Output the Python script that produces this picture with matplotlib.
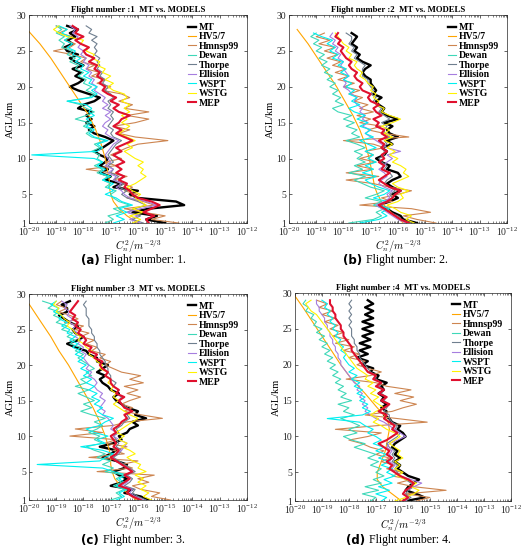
import numpy as np
import matplotlib
matplotlib.use('Agg')
import matplotlib.pyplot as plt
from matplotlib.ticker import LogLocator, NullFormatter

plt.rcParams['font.family'] = ['Liberation Serif', 'DejaVu Serif']
plt.rcParams['mathtext.fontset'] = 'cm'

names = ['MT', 'HV5/7', 'Hmnsp99', 'Dewan', 'Thorpe', 'Ellision', 'WSPT', 'WSTG', 'MEP']
colors = ['#000000', '#FFA500', '#CD8550', '#3ED8B8', '#6F7F8F', '#A67EDF', '#00F0F0', '#FFF200', '#E0102E']
widths = [1.7, 0.8, 0.8, 0.8, 0.8, 0.8, 0.8, 0.8, 1.5]

# log10(Cn2) profiles, sampled every 0.5 km starting at 1 km
# ---------------- flight 1 ----------------
mt_1 = [-15.0, -15.7, -15.3, -16.2, -15.6, -14.3, -14.6, -16.0, -16.3, -16.0,
        -16.9, -16.6, -17.2, -17.0, -17.4, -17.1, -17.4, -17.2, -17.1, -17.4,
        -17.6, -17.3, -17.1, -16.9, -17.2, -17.6, -17.8, -17.6, -17.9, -17.7,
        -17.9, -17.7, -18.2, -18.0, -17.6, -17.4, -17.8, -18.2, -18.5, -18.2,
        -18.0, -18.3, -18.1, -18.4, -18.0, -18.3, -18.5, -18.2, -18.6, -18.7,
        -18.4, -18.6, -18.3, -18.5, -18.2, -18.6]
hv_alt_1 = [1, 2, 3, 4, 5, 6, 7, 8, 10, 12, 14, 16, 18, 20, 22, 24, 26, 27.7]
hv_1 = [-16.0, -16.4, -16.7, -16.9, -17.0, -17.05, -17.05, -17.1, -17.2, -17.35,
        -17.55, -17.8, -18.15, -18.5, -18.85, -19.2, -19.6, -20.0]
hm_1 = [-14.5, -15.5, -15.0, -15.8, -16.5, -15.4, -15.8, -16.4, -16.0, -16.5,
        -16.2, -16.6, -16.9, -16.4, -17.0, -17.9, -16.8, -17.2, -16.6, -17.0,
        -16.7, -16.4, -16.0, -14.9, -16.1, -16.7, -16.3, -16.9, -16.1, -15.6,
        -16.4, -15.6, -16.5, -16.2, -16.7, -16.3, -16.6, -17.3, -17.0, -17.5,
        -17.2, -17.7, -17.4, -17.9, -17.6, -18.1, -17.9, -18.4, -19.1, -18.5,
        -18.3, -18.7, -18.4, -18.9, -18.6, -19.0]
dewan_1 = [-17.2, -16.9, -17.1, -16.6, -16.9, -16.3, -16.7, -16.9, -17.0, -16.8,
           -17.2, -17.0, -17.3, -17.1, -17.5, -17.3, -17.6, -17.3, -17.5, -17.4,
           -17.7, -17.4, -17.6, -17.2, -17.7, -17.9, -17.7, -18.0, -17.8, -18.3,
           -17.9, -17.6, -17.9, -18.1, -18.6, -17.8, -17.6, -17.9, -17.7, -18.0,
           -17.9, -18.2, -18.0, -18.3, -18.2, -18.5, -18.3, -18.6, -18.4, -18.8,
           -18.7, -18.9, -18.7, -19.0, -18.8, -19.0]
thorpe_1 = [-15.8, -16.2, -15.9, -16.4, -16.1, -15.7, -16.0, -16.4, -16.6, -16.4,
            -16.7, -16.5, -16.9, -16.7, -17.0, -16.9, -17.1, -16.9, -17.0, -17.1,
            -17.0, -16.9, -16.8, -16.6, -16.9, -17.0, -16.9, -17.1, -17.0, -16.9,
            -17.0, -16.9, -17.1, -17.0, -17.1, -16.9, -17.0, -17.2, -17.1, -17.3,
            -17.2, -17.4, -17.3, -17.5, -17.4, -17.5, -17.4, -17.6, -17.5, -17.6,
            -17.5, -17.7, -17.5, -17.8, -17.7, -17.9]
ellis_1 = [-15.9, -16.3, -16.0, -16.4, -15.9, -15.3, -15.7, -16.3, -16.5, -16.6,
           -16.8, -16.6, -16.9, -16.8, -17.1, -16.9, -17.2, -17.0, -17.1, -17.2,
           -17.1, -17.0, -16.9, -16.7, -17.0, -17.2, -17.1, -17.3, -17.2, -17.0,
           -17.2, -17.0, -17.3, -17.1, -17.3, -17.2, -17.4, -17.6, -17.5, -17.7,
           -17.6, -17.8, -17.7, -17.9, -17.8, -18.0, -17.9, -18.1, -18.0, -18.2,
           -18.1, -18.3, -18.2, -18.4, -18.3, -18.5]
wspt_1 = [-16.9, -16.5, -16.8, -16.4, -16.7, -16.2, -16.6, -16.8, -17.2, -16.9,
          -17.1, -16.9, -17.3, -17.0, -17.4, -17.2, -17.5, -17.3, -17.6, -19.9,
          -17.5, -17.3, -17.5, -17.1, -17.6, -17.8, -17.6, -17.9, -17.7, -17.9,
          -17.6, -17.8, -17.7, -17.9, -18.6, -17.7, -17.5, -17.7, -17.5, -17.8,
          -17.7, -18.0, -17.8, -18.1, -18.0, -18.3, -18.1, -18.4, -18.3, -18.6,
          -18.4, -18.7, -18.5, -18.8, -18.6, -18.9]
wstg_1 = [-16.2, -15.9, -16.3, -15.8, -16.2, -15.7, -15.9, -16.1, -15.9, -16.2,
          -16.4, -16.1, -15.9, -15.7, -15.9, -15.8, -16.0, -15.8, -16.1, -16.3,
          -16.5, -16.2, -16.4, -16.1, -16.4, -16.7, -16.5, -16.3, -16.6, -16.4,
          -16.6, -16.3, -16.5, -16.3, -16.6, -16.4, -16.5, -16.9, -17.1, -16.9,
          -17.2, -17.0, -17.3, -17.2, -17.5, -17.4, -17.7, -17.6, -17.9, -17.8,
          -18.1, -18.0, -18.6, -18.9, -19.1, -18.9]
mep_1 = [-15.6, -15.7, -15.4, -15.8, -15.5, -15.2, -15.5, -16.0, -16.2, -16.3,
         -16.5, -16.4, -16.7, -16.5, -16.8, -16.6, -16.8, -16.5, -16.7, -16.9,
         -16.6, -16.8, -16.5, -16.2, -16.5, -16.8, -16.6, -16.9, -16.7, -16.6,
         -16.3, -16.7, -16.9, -16.7, -17.0, -16.8, -17.1, -17.3, -17.2, -17.4,
         -17.3, -17.5, -17.4, -17.6, -17.5, -17.8, -17.6, -17.9, -18.0, -17.8,
         -18.1, -18.3, -18.0, -18.3, -18.2, -18.4]

# ---------------- flight 2 ----------------
mt_2 = [-15.3, -15.8, -15.9, -16.2, -16.4, -16.7, -16.3, -16.0, -16.2, -15.9,
        -16.2, -16.4, -16.2, -15.9, -16.0, -16.4, -16.3, -16.6, -16.8, -16.5,
        -16.4, -16.6, -16.2, -16.4, -16.0, -16.3, -16.4, -16.2, -16.5, -16.0,
        -16.4, -16.6, -16.5, -16.7, -16.8, -16.6, -16.9, -16.8, -16.9, -17.0,
        -17.0, -17.2, -17.3, -17.2, -17.0, -17.3, -17.5, -17.4, -17.6, -17.5,
        -17.7, -17.6, -17.5, -17.7]
hv_alt_2 = [1, 2, 3, 4, 5, 6, 8, 10, 12, 14, 16, 18, 20, 22, 24, 26, 28]
hv_2 = [-15.8, -16.1, -16.4, -16.6, -16.75, -16.85, -16.95, -17.05, -17.2, -17.4,
        -17.65, -17.95, -18.25, -18.6, -18.95, -19.3, -19.7]
hm_2 = [-14.6, -15.3, -15.8, -14.8, -15.5, -17.4, -16.2, -16.6, -16.0, -15.5,
        -16.3, -16.9, -17.9, -16.7, -17.9, -16.9, -17.5, -16.8, -17.4, -16.9,
        -17.2, -16.5, -16.9, -18.0, -15.6, -16.5, -17.1, -16.6, -17.4, -17.0,
        -17.5, -16.9, -17.4, -17.1, -17.6, -17.3, -17.8, -17.4, -18.0, -17.6,
        -18.2, -17.8, -18.3, -17.9, -18.4, -18.1, -18.6, -18.2, -18.7, -18.3,
        -18.9, -18.5, -19.0, -18.7]
dewan_2 = [-17.8, -16.9, -16.6, -16.8, -16.5, -16.9, -16.6, -17.2, -16.8, -16.5,
           -17.0, -17.3, -17.6, -17.2, -17.8, -17.3, -17.6, -17.2, -17.5, -17.3,
           -17.6, -17.2, -17.5, -17.9, -17.4, -17.7, -17.5, -17.9, -17.6, -18.0,
           -17.7, -18.2, -18.4, -18.0, -18.3, -18.1, -18.4, -18.2, -18.5, -18.3,
           -18.6, -18.4, -18.7, -18.5, -18.8, -18.6, -18.9, -18.7, -19.0, -18.8,
           -19.1, -18.9, -19.2, -19.0]
thorpe_2 = [-15.5, -15.9, -16.0, -16.3, -16.4, -16.6, -16.4, -16.2, -16.3, -16.1,
            -16.3, -16.5, -16.4, -16.2, -16.3, -16.5, -16.4, -16.6, -16.7, -16.5,
            -16.5, -16.6, -16.4, -16.5, -16.3, -16.5, -16.5, -16.4, -16.6, -16.3,
            -16.5, -16.7, -16.6, -16.8, -16.9, -16.8, -17.0, -16.9, -17.0, -17.1,
            -17.1, -17.3, -17.3, -17.3, -17.2, -17.4, -17.6, -17.5, -17.7, -17.6,
            -17.8, -17.7, -17.7, -17.9]
ellis_2 = [-15.7, -16.0, -16.2, -16.4, -16.6, -16.8, -16.5, -16.3, -16.4, -16.2,
           -16.5, -16.7, -16.6, -16.4, -16.5, -16.7, -16.5, -16.4, -16.2, -16.4,
           -15.9, -16.4, -16.6, -16.8, -17.0, -17.2, -17.0, -17.3, -17.1, -17.3,
           -17.2, -17.4, -17.3, -17.5, -17.6, -17.5, -17.7, -17.8, -18.0, -17.9,
           -18.0, -17.8, -17.9, -18.0, -18.1, -18.0, -18.2, -18.1, -18.3, -18.2,
           -18.4, -18.3, -18.5, -18.4]
wspt_2 = [-17.4, -16.7, -16.4, -16.6, -16.3, -16.7, -16.4, -16.9, -16.5, -16.3,
          -16.7, -17.0, -17.2, -16.8, -17.3, -16.9, -17.2, -16.8, -17.1, -16.9,
          -17.2, -16.8, -17.1, -17.4, -16.9, -17.2, -17.0, -17.4, -17.1, -17.5,
          -17.2, -17.6, -17.8, -17.4, -17.7, -17.5, -17.8, -17.6, -17.9, -17.7,
          -18.0, -17.8, -18.1, -17.9, -18.2, -18.0, -18.4, -18.2, -18.5, -18.3,
          -18.6, -18.4, -18.8, -19.1]
wstg_2 = [-15.4, -15.7, -15.5, -15.9, -16.1, -16.4, -16.0, -15.8, -15.9, -15.6,
          -16.0, -16.2, -15.9, -15.6, -15.8, -15.7, -15.9, -16.2, -16.0, -16.3,
          -16.1, -16.4, -16.2, -16.5, -16.2, -16.5, -16.3, -16.6, -16.2, -15.9,
          -16.3, -16.6, -16.5, -16.8, -16.7, -16.9, -16.8, -17.0, -16.9, -17.1,
          -17.2, -17.4, -17.3, -17.5, -17.6, -17.5, -17.8, -17.7, -17.9, -17.8,
          -18.0, -18.1, -18.2, -18.3]
mep_2 = [-15.6, -15.9, -16.1, -16.3, -16.5, -16.7, -16.4, -16.2, -16.1, -15.9,
         -16.3, -16.5, -16.7, -16.5, -16.3, -16.6, -16.5, -16.7, -16.5, -16.6,
         -16.4, -16.6, -16.5, -16.7, -16.4, -16.6, -16.5, -16.8, -16.7, -16.9,
         -16.6, -16.8, -16.9, -16.7, -17.0, -17.1, -17.0, -17.3, -17.4, -17.3,
         -17.5, -17.6, -17.5, -17.7, -17.8, -17.7, -17.9, -18.0, -18.1, -18.0,
         -18.2, -18.1, -18.3, -18.2]

# ---------------- flight 3 ----------------
mt_3 = [-15.6, -15.9, -16.5, -16.2, -17.0, -16.6, -16.4, -16.7, -16.9, -16.5,
        -16.4, -16.8, -17.3, -17.0, -16.8, -17.4, -16.9, -16.6, -16.7, -16.4,
        -16.3, -16.0, -16.2, -15.7, -16.1, -16.0, -16.4, -16.6, -16.8, -16.9,
        -16.7, -17.0, -17.1, -17.3, -17.4, -17.2, -17.5, -17.3, -17.1, -17.5,
        -17.5, -17.8, -17.9, -18.3, -18.6, -18.2, -18.0, -18.3, -18.4, -18.2,
        -18.5, -18.7, -18.9, -18.6, -18.6, -18.8, -18.5]
hv_alt_3 = [1, 2, 3, 4, 5, 6, 7, 8, 10, 12, 14, 16, 18, 20, 22, 24, 26, 28.6]
hv_3 = [-16.05, -16.4, -16.65, -16.85, -16.95, -17.0, -17.0, -17.05, -17.2, -17.4,
        -17.65, -17.95, -18.25, -18.55, -18.9, -19.2, -19.55, -20.0]
hm_3 = [-14.8, -15.5, -15.2, -15.9, -16.2, -15.6, -16.0, -15.4, -17.5, -16.2,
        -16.6, -16.0, -17.8, -16.5, -16.9, -16.4, -17.2, -16.8, -18.5, -17.3,
        -18.3, -16.9, -16.4, -15.1, -15.9, -16.5, -16.2, -16.6, -16.3, -15.9,
        -16.4, -16.0, -16.5, -15.8, -16.3, -15.9, -16.6, -16.9, -17.2, -17.0,
        -17.4, -17.2, -17.7, -17.5, -17.9, -17.6, -18.1, -17.8, -18.3, -18.0,
        -18.7, -18.2, -18.5, -18.9, -18.6, -19.0, -18.8]
dewan_3 = [-17.0, -16.6, -16.8, -16.5, -16.9, -16.6, -16.8, -16.5, -17.2, -16.9,
           -17.3, -17.0, -17.5, -17.2, -17.6, -17.9, -17.3, -17.6, -17.4, -17.8,
           -17.5, -17.3, -17.6, -17.2, -17.7, -18.1, -17.7, -18.0, -17.6, -17.9,
           -18.2, -17.8, -18.3, -17.9, -18.1, -17.7, -17.9, -17.6, -17.8, -18.0,
           -18.2, -18.0, -18.3, -18.1, -18.5, -18.3, -18.6, -18.4, -18.8, -18.6,
           -19.0, -18.8, -19.1, -18.9, -19.3, -19.1, -19.5]
thorpe_3 = [-15.7, -16.0, -16.2, -16.1, -16.5, -16.3, -16.2, -16.4, -16.1, -16.3,
            -16.5, -16.7, -16.9, -16.7, -16.6, -16.8, -16.7, -16.8, -16.9, -16.7,
            -16.8, -16.6, -16.5, -16.3, -16.4, -16.2, -16.4, -16.6, -16.7, -16.6,
            -16.8, -16.7, -16.9, -16.8, -17.0, -17.0, -17.1, -17.1, -17.2, -17.2,
            -17.3, -17.4, -17.4, -17.5, -17.5, -17.6, -17.6, -17.7, -17.7, -17.8,
            -17.8, -17.8, -17.9, -17.9, -17.9, -18.0, -17.9]
ellis_3 = [-15.8, -16.1, -16.3, -16.2, -16.6, -16.4, -16.3, -16.5, -16.2, -16.4,
           -16.6, -16.8, -17.0, -16.8, -16.6, -16.5, -16.4, -16.7, -16.9, -16.8,
           -17.0, -16.9, -17.0, -17.1, -17.3, -17.2, -17.4, -17.3, -17.2, -17.4,
           -17.3, -17.5, -17.6, -17.5, -17.6, -17.8, -17.7, -17.9, -17.8, -17.9,
           -18.0, -17.9, -18.1, -18.0, -18.2, -18.1, -18.3, -18.2, -18.4, -18.3,
           -18.5, -18.4, -18.6, -18.5, -18.7, -18.6, -18.8]
wspt_3 = [-16.8, -16.5, -16.7, -16.4, -16.8, -16.5, -16.7, -16.4, -16.9, -17.3,
          -19.7, -17.4, -17.2, -16.9, -17.3, -18.1, -17.2, -17.5, -17.1, -17.6,
          -17.9, -17.4, -17.2, -16.9, -17.3, -17.5, -17.3, -17.6, -17.4, -17.7,
          -17.5, -17.8, -17.6, -17.9, -17.7, -18.0, -17.8, -18.1, -17.9, -18.2,
          -18.0, -18.3, -18.1, -18.4, -18.2, -18.5, -18.3, -18.6, -18.5, -18.8,
          -18.6, -18.9, -18.8, -19.1, -18.9, -19.2, -19.0]
wstg_3 = [-15.5, -15.8, -15.6, -15.9, -15.7, -16.0, -15.8, -16.1, -15.7, -16.0,
          -15.9, -16.2, -16.4, -16.1, -16.3, -16.6, -16.4, -16.7, -16.5, -16.8,
          -16.6, -16.4, -16.2, -16.0, -16.3, -16.5, -16.7, -16.9, -16.7, -16.9,
          -16.8, -17.0, -16.9, -17.1, -17.0, -17.2, -17.1, -17.4, -17.3, -17.5,
          -17.6, -17.8, -17.7, -17.9, -18.0, -18.2, -18.1, -18.3, -18.4, -18.6,
          -18.5, -18.7, -18.8, -19.0, -18.9, -19.1, -19.0]
mep_3 = [-15.9, -16.2, -16.4, -16.3, -16.7, -16.5, -16.3, -16.5, -16.2, -16.4,
         -16.6, -16.8, -17.0, -16.8, -16.7, -16.9, -16.8, -16.9, -17.0, -16.8,
         -16.9, -16.7, -16.6, -16.4, -16.5, -16.2, -16.5, -16.6, -16.7, -16.5,
         -16.8, -16.7, -16.9, -17.0, -17.0, -17.2, -17.1, -17.3, -17.4, -17.3,
         -17.6, -17.5, -17.8, -17.7, -18.0, -17.9, -18.0, -18.2, -18.1, -18.3,
         -18.2, -18.4, -18.3, -18.5, -18.4, -18.3, -18.2]

# ---------------- flight 4 ----------------
mt_4 = [-15.9, -15.2, -15.5, -15.9, -15.8, -15.6, -15.4, -15.8, -16.0, -16.2,
        -16.1, -16.3, -16.1, -16.3, -16.2, -16.4, -16.3, -16.1, -15.9, -16.0,
        -16.2, -16.1, -16.4, -16.5, -16.7, -16.6, -16.8, -16.6, -16.8, -16.7,
        -16.9, -16.7, -16.8, -16.6, -17.0, -16.9, -17.2, -17.1, -17.5, -17.3,
        -17.7, -17.3, -17.6, -17.2, -17.6, -17.2, -17.5, -17.1, -17.5, -17.1,
        -17.5, -17.1, -17.4, -17.1, -17.4, -17.1, -17.3]
hv_alt_4 = [1, 2, 3, 4, 5, 6, 7, 8, 9, 10, 11, 12, 13, 14, 16, 18, 20, 22, 24, 26, 28, 29.6]
hv_4 = [-16.05, -16.4, -16.75, -16.95, -16.95, -16.85, -16.75, -16.65, -16.6, -16.55,
        -16.5, -16.55, -16.7, -16.95, -17.4, -17.9, -18.3, -18.65, -19.0, -19.35,
        -19.7, -20.0]
hm_4 = [-15.5, -15.0, -15.9, -14.4, -15.6, -16.2, -15.7, -16.4, -16.0, -16.6,
        -16.3, -16.8, -16.5, -17.0, -16.7, -17.2, -17.5, -18.0, -17.3, -16.8,
        -18.5, -17.0, -15.1, -16.2, -17.4, -16.4, -16.0, -15.5, -16.1, -15.6,
        -16.3, -15.7, -16.6, -17.0, -18.1, -17.2, -16.8, -17.3, -17.7, -17.4,
        -18.0, -17.6, -18.2, -17.8, -18.5, -18.0, -18.6, -18.2, -18.7, -18.4,
        -18.9, -18.5, -19.0, -18.6, -19.1, -18.8, -19.2]
dewan_4 = [-17.2, -17.0, -17.5, -16.9, -17.4, -16.8, -17.1, -16.7, -17.0, -16.8,
           -17.2, -16.9, -17.3, -17.0, -17.4, -17.8, -17.4, -17.9, -18.2, -17.7,
           -18.0, -17.6, -17.9, -18.3, -17.8, -18.2, -18.0, -18.4, -17.9, -18.3,
           -18.1, -18.4, -18.2, -18.5, -18.3, -18.6, -18.4, -18.7, -18.5, -18.8,
           -18.6, -18.9, -18.7, -19.0, -18.8, -19.1, -18.9, -19.2, -19.0, -19.3,
           -19.2, -19.4, -19.3, -19.6, -19.5, -19.7, -19.6]
thorpe_4 = [-15.9, -15.7, -15.9, -15.8, -15.6, -15.7, -15.9, -16.1, -16.2, -16.3,
            -16.2, -16.4, -16.3, -16.4, -16.3, -16.5, -16.6, -16.4, -16.2, -16.1,
            -16.3, -16.2, -16.4, -16.5, -16.5, -16.7, -16.6, -16.5, -16.7, -16.6,
            -16.8, -16.7, -16.9, -16.8, -17.0, -17.0, -17.2, -17.3, -17.4, -17.5,
            -17.6, -17.6, -17.7, -17.7, -17.8, -17.8, -17.9, -17.9, -17.9, -18.0,
            -17.9, -18.0, -17.9, -18.0, -17.9, -18.0, -17.9]
ellis_4 = [-15.9, -15.8, -16.0, -15.9, -15.6, -15.3, -15.7, -16.1, -16.3, -16.4,
           -16.3, -16.5, -16.4, -16.5, -16.4, -16.6, -16.5, -16.2, -15.9, -16.1,
           -16.3, -16.5, -16.7, -17.0, -17.2, -17.4, -17.3, -17.5, -17.4, -17.6,
           -17.5, -17.7, -17.6, -17.8, -17.9, -18.0, -18.1, -18.2, -18.3, -18.3,
           -18.4, -18.4, -18.5, -18.5, -18.6, -18.6, -18.7, -18.7, -18.8, -18.8,
           -18.9, -18.9, -19.0, -19.1, -19.1, -19.2, -19.2]
wspt_4 = [-16.8, -16.6, -17.0, -16.5, -16.9, -16.4, -16.7, -16.3, -16.6, -16.4,
          -16.8, -16.5, -16.9, -16.6, -17.0, -16.7, -17.1, -16.8, -17.0, -17.3,
          -17.1, -17.4, -17.6, -18.8, -17.5, -17.2, -17.5, -17.3, -17.6, -17.4,
          -17.7, -17.5, -17.8, -17.6, -17.9, -17.7, -18.0, -17.8, -18.0, -18.1,
          -18.2, -18.1, -18.3, -18.2, -18.4, -18.3, -18.5, -18.4, -18.6, -18.5,
          -18.7, -18.6, -18.8, -18.7, -18.9, -18.8, -19.0]
wstg_4 = [-16.3, -15.9, -15.6, -15.4, -15.7, -15.5, -15.9, -16.2, -16.0, -16.3,
          -16.1, -16.3, -16.0, -16.2, -16.1, -16.3, -16.5, -16.3, -16.1, -16.3,
          -16.6, -16.8, -17.1, -16.9, -17.2, -17.0, -16.7, -16.9, -17.1, -16.9,
          -17.2, -17.0, -17.3, -17.1, -17.4, -17.3, -17.5, -17.7, -17.8, -17.9,
          -18.0, -18.1, -18.2, -18.3, -18.4, -18.5, -18.6, -18.7, -18.8, -18.9,
          -19.0, -19.1, -19.2, -19.4, -19.5, -19.6, -19.4]
mep_4 = [-16.0, -15.8, -16.0, -15.9, -15.7, -15.6, -15.8, -16.1, -16.3, -16.5,
         -16.4, -16.6, -16.4, -16.6, -16.5, -16.7, -16.9, -16.6, -16.4, -16.2,
         -16.4, -16.3, -16.5, -16.7, -16.6, -16.9, -16.7, -16.5, -16.8, -16.6,
         -16.9, -16.7, -17.0, -16.8, -17.1, -17.0, -17.3, -17.4, -17.5, -17.6,
         -17.7, -17.8, -17.9, -17.9, -18.0, -18.1, -18.2, -18.2, -18.3, -18.3,
         -18.4, -18.5, -18.5, -18.6, -18.6, -18.7, -18.7]

flights = [
    (1, [mt_1, hv_1, hm_1, dewan_1, thorpe_1, ellis_1, wspt_1, wstg_1, mep_1], hv_alt_1),
    (2, [mt_2, hv_2, hm_2, dewan_2, thorpe_2, ellis_2, wspt_2, wstg_2, mep_2], hv_alt_2),
    (3, [mt_3, hv_3, hm_3, dewan_3, thorpe_3, ellis_3, wspt_3, wstg_3, mep_3], hv_alt_3),
    (4, [mt_4, hv_4, hm_4, dewan_4, thorpe_4, ellis_4, wspt_4, wstg_4, mep_4], hv_alt_4),
]

# axes rectangles in figure fraction (left, bottom, width, height)
boxes = [
    [0.0557, 0.5945, 0.418, 0.378],
    [0.5547, 0.5945, 0.418, 0.378],
    [0.0557, 0.0909, 0.418, 0.3745],
    [0.5660, 0.0890, 0.4146, 0.3782],
]
# caption: label, right edge of the bold part, vertical centre
captions = [('(a)', 0.192, 0.527), ('(b)', 0.695, 0.527),
            ('(c)', 0.190, 0.018), ('(d)', 0.700, 0.018)]

fig = plt.figure(figsize=(5.21, 5.5), dpi=100)

for (num, series, hv_alt), box, cap in zip(flights, boxes, captions):
    ax = fig.add_axes(box)
    for name, vals, c, lw in zip(names, series, colors, widths):
        if name == 'HV5/7':
            alt = np.array(hv_alt)
        else:
            alt = 1.0 + 0.5 * np.arange(len(vals))
        ax.plot(10.0 ** np.array(vals), alt, color=c, lw=lw, label=name)
    ax.set_xscale('log')
    ax.set_xlim(1e-20, 1e-12)
    ax.set_ylim(1, 30)
    ax.set_xticks([10.0 ** k for k in range(-20, -11)])
    ax.set_yticks([1, 5, 10, 15, 20, 25, 30])
    ax.xaxis.set_minor_locator(LogLocator(base=10, subs=np.arange(2, 10), numticks=20))
    ax.xaxis.set_minor_formatter(NullFormatter())
    ax.tick_params(which='major', direction='in', top=True, right=True, labelsize=7,
                   length=2.5, width=0.5, pad=2, colors='#262626')
    ax.tick_params(which='minor', direction='in', top=True, length=1.2, width=0.4,
                   colors='#262626')
    for sp in ax.spines.values():
        sp.set_linewidth(0.5)
        sp.set_color('#262626')
    ax.set_title('Flight number :%d  MT vs. MODELS' % num, fontsize=6.3,
                 fontweight='bold', pad=2.5)
    ax.set_xlabel(r'$C_n^2/m^{-2/3}$', fontsize=7.5, labelpad=0)
    ax.set_ylabel('AGL/km', fontsize=7.5, labelpad=1)
    ax.legend(loc='upper right', frameon=False, prop={'weight': 'bold', 'size': 7},
              handlelength=0.8, handletextpad=0.3, labelspacing=0.05,
              borderaxespad=0.4)
    fig.text(cap[1], cap[2], cap[0], ha='right', va='center', fontsize=8.5,
             fontweight='bold', family='DejaVu Sans')
    fig.text(cap[1] + 0.008, cap[2], 'Flight number: %d.' % num, ha='left',
             va='center', fontsize=8.5)

fig.savefig('out.png', dpi=100)
